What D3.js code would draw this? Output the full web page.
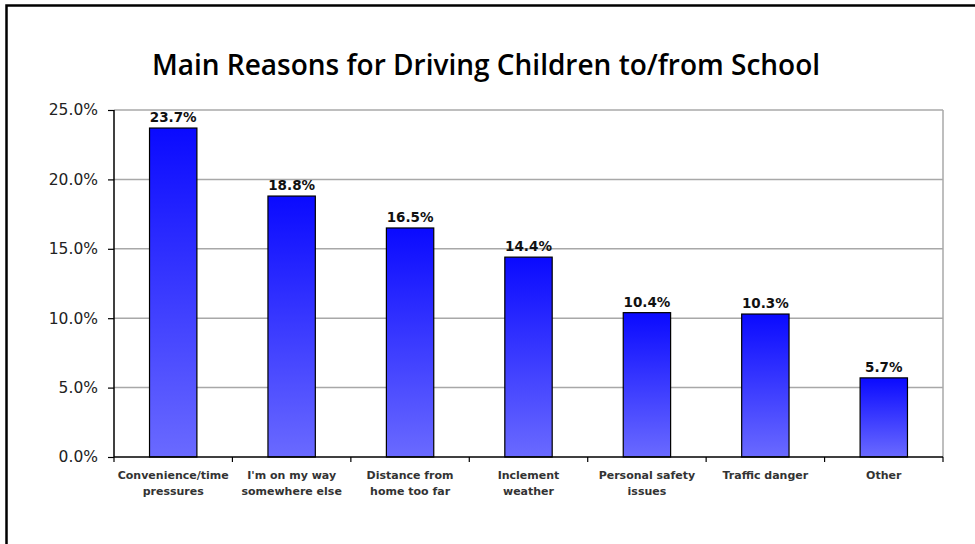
<!DOCTYPE html>
<html>
<head>
<meta charset="utf-8">
<script src="https://cdn.jsdelivr.net/npm/d3@7"></script>
<style>
  body { margin: 0; background: #fff; }
  svg { display: block; }
</style>
</head>
<body>
<script>
const reasons = [
  ["Convenience/time", "pressures"],
  ["I'm on my way", "somewhere else"],
  ["Distance from", "home too far"],
  ["Inclement", "weather"],
  ["Personal safety", "issues"],
  ["Traffic danger"],
  ["Other"]
];
const shares = [23.7, 18.8, 16.5, 14.4, 10.4, 10.3, 5.7];
const yTicks = [0, 5, 10, 15, 20, 25];

const W = 975, H = 544;
const margin = {top: 110, right: 32, bottom: 87, left: 114},
  width = W - margin.left - margin.right,
  height = H - margin.top - margin.bottom;

const svg = d3.select("body").append("svg")
  .attr("width", W)
  .attr("height", H);

// outer frame (only top and left edges show)
svg.append("path")
  .attr("d", "M6.5,560V5.5H980")
  .attr("fill", "none")
  .attr("stroke", "#000")
  .attr("stroke-width", 2.5);

svg.append("text")
  .attr("x", 486)
  .attr("y", 75)
  .attr("text-anchor", "middle")
  .attr("font-family", "'Open Sans', sans-serif")
  .attr("font-weight", 600)
  .attr("font-size", 28)
  .attr("fill", "#000")
  .text("Main Reasons for Driving Children to/from School");

const defs = svg.append("defs");
const grad = defs.append("linearGradient")
  .attr("id", "barGrad")
  .attr("x1", 0).attr("y1", 0).attr("x2", 0).attr("y2", 1);
grad.append("stop").attr("offset", "0%").attr("stop-color", "#0a0aff");
grad.append("stop").attr("offset", "100%").attr("stop-color", "#6a6aff");

const g = svg.append("g")
  .attr("transform", "translate(" + margin.left + "," + margin.top + ")");

const x = d3.scaleBand()
  .domain(d3.range(shares.length))
  .range([0, width])
  .paddingInner(0.6)
  .paddingOuter(0.3);

const y = d3.scaleLinear()
  .domain([0, 25])
  .range([height, 0]);

// gridlines
g.append("g")
  .selectAll("line")
  .data(yTicks.filter(d => d > 0))
  .join("line")
  .attr("x1", 0)
  .attr("x2", width)
  .attr("y1", d => y(d))
  .attr("y2", d => y(d))
  .attr("stroke", "#a8a8a8")
  .attr("stroke-width", 1.5);

// right border of plot area
g.append("line")
  .attr("x1", width).attr("x2", width)
  .attr("y1", 0).attr("y2", height)
  .attr("stroke", "#a8a8a8")
  .attr("stroke-width", 1.5);

// bars
g.append("g")
  .selectAll("rect")
  .data(shares)
  .join("rect")
  .attr("x", (d, i) => x(i))
  .attr("y", d => y(d))
  .attr("width", x.bandwidth())
  .attr("height", d => height - y(d))
  .attr("fill", "url(#barGrad)")
  .attr("stroke", "#000")
  .attr("stroke-width", 1.2);

// value labels
g.append("g")
  .selectAll("text")
  .data(shares)
  .join("text")
  .attr("x", (d, i) => x(i) + x.bandwidth() / 2)
  .attr("y", d => y(d) - 6)
  .attr("text-anchor", "middle")
  .attr("font-family", "'DejaVu Sans', Verdana, sans-serif")
  .attr("font-weight", "bold")
  .attr("font-size", 13.5)
  .attr("fill", "#111")
  .text(d => d.toFixed(1) + "%");

// y axis
const yAxis = d3.axisLeft(y)
  .tickValues(yTicks)
  .tickSize(6)
  .tickPadding(10)
  .tickFormat(d => d.toFixed(1) + "%");

const ya = g.append("g").call(yAxis).attr("font-size", null);
ya.select(".domain").attr("stroke", "#000").attr("stroke-width", 1.5).attr("d", "M0,0V" + height);
ya.selectAll(".tick line").attr("stroke", "#000").attr("stroke-width", 1.2);
ya.selectAll(".tick text")
  .style("font-family", "'DejaVu Sans', Verdana, sans-serif")
  .style("font-size", "15.5px")
  .attr("fill", "#222");

// x axis line and category boundary ticks
const xa = g.append("g").attr("transform", "translate(0," + height + ")");
xa.append("line")
  .attr("x1", 0).attr("x2", width)
  .attr("stroke", "#000").attr("stroke-width", 1.5);
xa.selectAll("line.bound")
  .data(d3.range(shares.length + 1))
  .join("line")
  .attr("class", "bound")
  .attr("x1", i => i * width / shares.length)
  .attr("x2", i => i * width / shares.length)
  .attr("y1", 0).attr("y2", 5)
  .attr("stroke", "#000").attr("stroke-width", 1.2);

const cat = xa.selectAll("text.cat")
  .data(reasons)
  .join("text")
  .attr("class", "cat")
  .attr("x", (d, i) => x(i) + x.bandwidth() / 2)
  .attr("y", 22)
  .attr("text-anchor", "middle")
  .attr("font-family", "'DejaVu Sans', Verdana, sans-serif")
  .attr("font-weight", "bold")
  .attr("font-size", 11)
  .attr("fill", "#333");
cat.selectAll("tspan")
  .data(d => d)
  .join("tspan")
  .attr("x", function() { return this.parentNode.getAttribute("x"); })
  .attr("dy", (d, i) => i === 0 ? 0 : 16)
  .text(d => d);
</script>
</body>
</html>
